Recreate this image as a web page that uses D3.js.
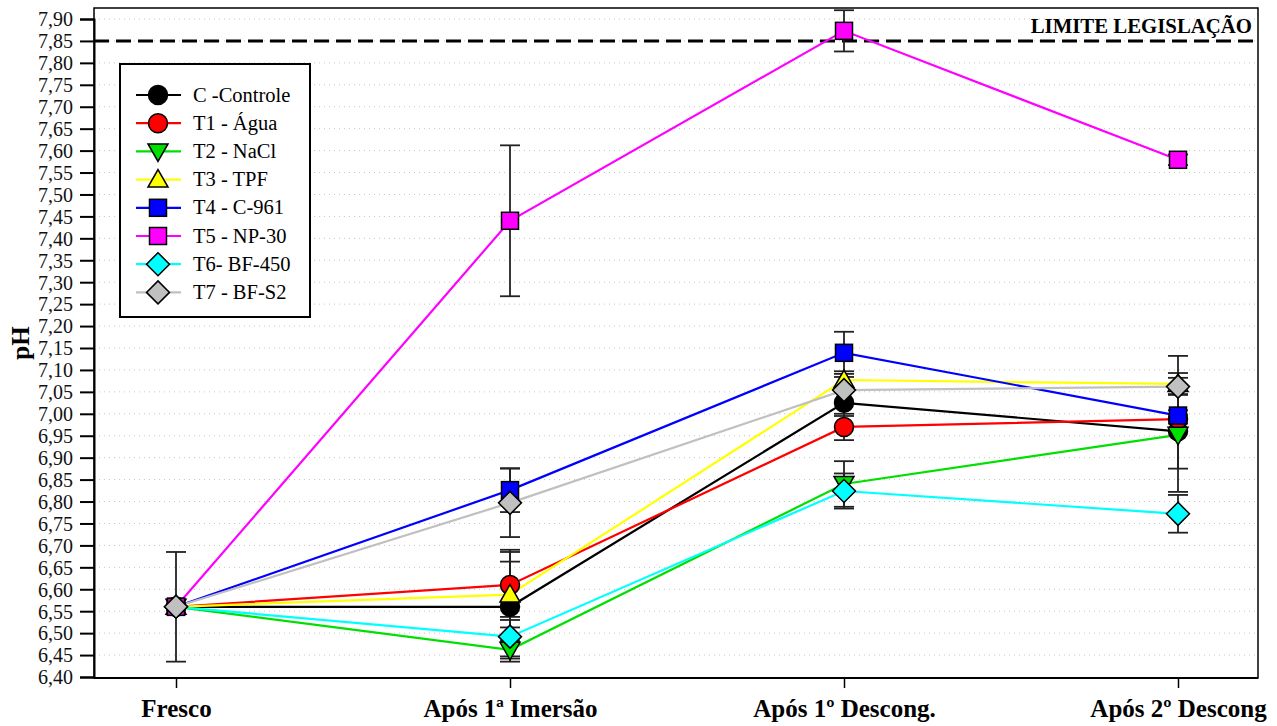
<!DOCTYPE html>
<html><head><meta charset="utf-8">
<script src="https://cdn.jsdelivr.net/npm/d3@7"></script>
<style>body{margin:0;background:#fff}svg{display:block}</style>
</head><body>
<script>
const categories = ["Fresco", "Após 1ª Imersão", "Após 1º Descong.", "Após 2º Descong"];
const seriesNames = ["C -Controle", "T1 - Água", "T2 - NaCl", "T3 - TPF", "T4 - C-961", "T5 - NP-30", "T6- BF-450", "T7 - BF-S2"];
const valC  = [6.56, 6.56, 7.025, 6.96];
const valT1 = [6.56, 6.61, 6.97, 6.988];
const valT2 = [6.56, 6.462, 6.84, 6.952];
const valT3 = [6.56, 6.588, 7.077, 7.068];
const valT4 = [6.56, 6.826, 7.139, 6.996];
const valT5 = [6.56, 7.44, 7.873, 7.579];
const valT6 = [6.56, 6.492, 6.824, 6.772];
const valT7 = [6.56, 6.797, 7.054, 7.062];
const errC  = [0.125, 0.125, 0.03, 0.085];
const errT1 = [0, 0.08, 0.03, 0.01];
const errT2 = [0, 0.02, 0.052, 0.13];
const errT3 = [0, 0.075, 0.02, 0.025];
const errT4 = [0, 0.05, 0.048, 0.012];
const errT5 = [0, 0.172, 0.047, 0.012];
const errT6 = [0, 0.045, 0.04, 0.043];
const errT7 = [0, 0.078, 0.03, 0.07];
const yTicks = d3.range(0, 31).map(i => +(6.40 + i * 0.05).toFixed(2));
const limitValue = 7.85;
const limitLabel = "LIMITE LEGISLAÇÃO";
const yLabel = "pH";

const colors = ["#000000", "#ff0000", "#00e000", "#ffff00", "#0000ff", "#ff00ff", "#00ffff", "#c0c0c0"];
const symbols = ["circle", "circle", "tdown", "tup", "square", "square", "diamond", "diamond"];
const vals = [valC, valT1, valT2, valT3, valT4, valT5, valT6, valT7];
const errs = [errC, errT1, errT2, errT3, errT4, errT5, errT6, errT7];
const series = seriesNames.map((n, i) => ({name: n, color: colors[i], sym: symbols[i],
  pts: categories.map((c, j) => ({c, v: vals[i][j], e: errs[i][j]}))}));

const W = 1277, H = 726;
const L = 94, R = 1258, T = 8, B = 678;
const svg = d3.select("body").append("svg").attr("width", W).attr("height", H);
const x = d3.scalePoint().domain(categories).range([176, 1178]);
const y = d3.scaleLinear().domain([6.40, 7.90]).range([677, 19]);
const serif = "'Liberation Serif', 'Times New Roman', serif";

// grid
svg.append("g").selectAll("line").data(yTicks.slice(1)).join("line")
  .attr("x1", L).attr("x2", R).attr("y1", d => y(d)).attr("y2", d => y(d))
  .attr("stroke", "#c4c4c4").attr("stroke-width", 1).attr("stroke-dasharray", "1,4");

// frame
svg.append("rect").attr("x", L).attr("y", T).attr("width", R - L).attr("height", B - T)
  .attr("fill", "none").attr("stroke", "#000").attr("stroke-width", 1.5);

// y axis
const yAxis = d3.axisLeft(y).tickValues(yTicks).tickSize(14).tickPadding(7)
  .tickFormat(d => d3.format(".2f")(d).replace(".", ","));
const gy = svg.append("g").attr("transform", `translate(${L},0)`).call(yAxis);
gy.select(".domain").attr("stroke-width", 2);
gy.selectAll(".tick line").attr("stroke-width", 2);
gy.selectAll("text").attr("font-family", serif).attr("font-size", 20).attr("fill", "#111").attr("dy", "0.34em");

// x axis
const xAxis = d3.axisBottom(x).tickSize(10).tickPadding(14);
const gx = svg.append("g").attr("transform", `translate(0,${B})`).call(xAxis);
gx.select(".domain").remove();
gx.selectAll(".tick line").attr("stroke-width", 1.5);
gx.selectAll("text").attr("font-family", serif).attr("font-size", 25).attr("font-weight", "bold").attr("fill", "#000").attr("dy", "0.58em");
svg.append("line").attr("x1", L).attr("x2", R).attr("y1", B).attr("y2", B).attr("stroke", "#000").attr("stroke-width", 2);

// y label
svg.append("text").attr("transform", `translate(29,343) rotate(-90)`)
  .attr("text-anchor", "middle").attr("font-family", serif).attr("font-weight", "bold")
  .attr("font-size", 25).text(yLabel);

// limit line
svg.append("line").attr("x1", L).attr("x2", R).attr("y1", y(limitValue)).attr("y2", y(limitValue))
  .attr("stroke", "#000").attr("stroke-width", 3).attr("stroke-dasharray", "15,7");
svg.append("text").attr("x", R - 6).attr("y", y(limitValue) - 8).attr("text-anchor", "end")
  .attr("font-family", serif).attr("font-weight", "bold").attr("font-size", 20.8).text(limitLabel);

// error bars
const eg = svg.append("g");
series.forEach(s => {
  s.pts.filter(p => p.e > 0).forEach(p => {
    const cx = x(p.c), y1 = y(p.v + p.e), y2 = y(p.v - p.e);
    eg.append("line").attr("x1", cx).attr("x2", cx).attr("y1", y1).attr("y2", y2).attr("stroke", "#222").attr("stroke-width", 1.8);
    [y1, y2].forEach(yy => eg.append("line").attr("x1", cx - 10).attr("x2", cx + 10).attr("y1", yy).attr("y2", yy).attr("stroke", "#222").attr("stroke-width", 1.8));
  });
});

function drawSym(g, sym, cx, cy, fill) {
  let el;
  if (sym === "circle") el = g.append("circle").attr("cx", cx).attr("cy", cy).attr("r", 9.5);
  else if (sym === "square") el = g.append("rect").attr("x", cx - 8.5).attr("y", cy - 8.5).attr("width", 17).attr("height", 17);
  else if (sym === "diamond") el = g.append("path").attr("d", `M${cx},${cy - 11.5}L${cx + 11.5},${cy}L${cx},${cy + 11.5}L${cx - 11.5},${cy}Z`);
  else if (sym === "tup") el = g.append("path").attr("d", `M${cx},${cy - 10}L${cx + 10},${cy + 7.5}L${cx - 10},${cy + 7.5}Z`);
  else el = g.append("path").attr("d", `M${cx},${cy + 10}L${cx + 10},${cy - 7.5}L${cx - 10},${cy - 7.5}Z`);
  el.attr("fill", fill).attr("stroke", "#000").attr("stroke-width", 1.5);
}

// lines
const line = d3.line().x(p => x(p.c)).y(p => y(p.v));
series.forEach(s => {
  svg.append("path").datum(s.pts).attr("d", line).attr("fill", "none")
    .attr("stroke", s.color).attr("stroke-width", 2.2);
});
// markers
series.forEach(s => {
  const g = svg.append("g");
  s.pts.forEach(p => drawSym(g, s.sym, x(p.c), y(p.v), s.color));
});

// legend
const lg = svg.append("g");
lg.append("rect").attr("x", 120).attr("y", 64).attr("width", 190).attr("height", 253)
  .attr("fill", "#fff").attr("stroke", "#000").attr("stroke-width", 2);
series.forEach((s, i) => {
  const ly = 95 + i * 28.2;
  lg.append("line").attr("x1", 136).attr("x2", 181).attr("y1", ly).attr("y2", ly).attr("stroke", s.color).attr("stroke-width", 2.2);
  drawSym(lg, s.sym, 158, ly, s.color);
  lg.append("text").attr("x", 193).attr("y", ly + 6.5).attr("font-family", serif).attr("font-size", 20.5).text(s.name);
});
</script>
</body></html>
